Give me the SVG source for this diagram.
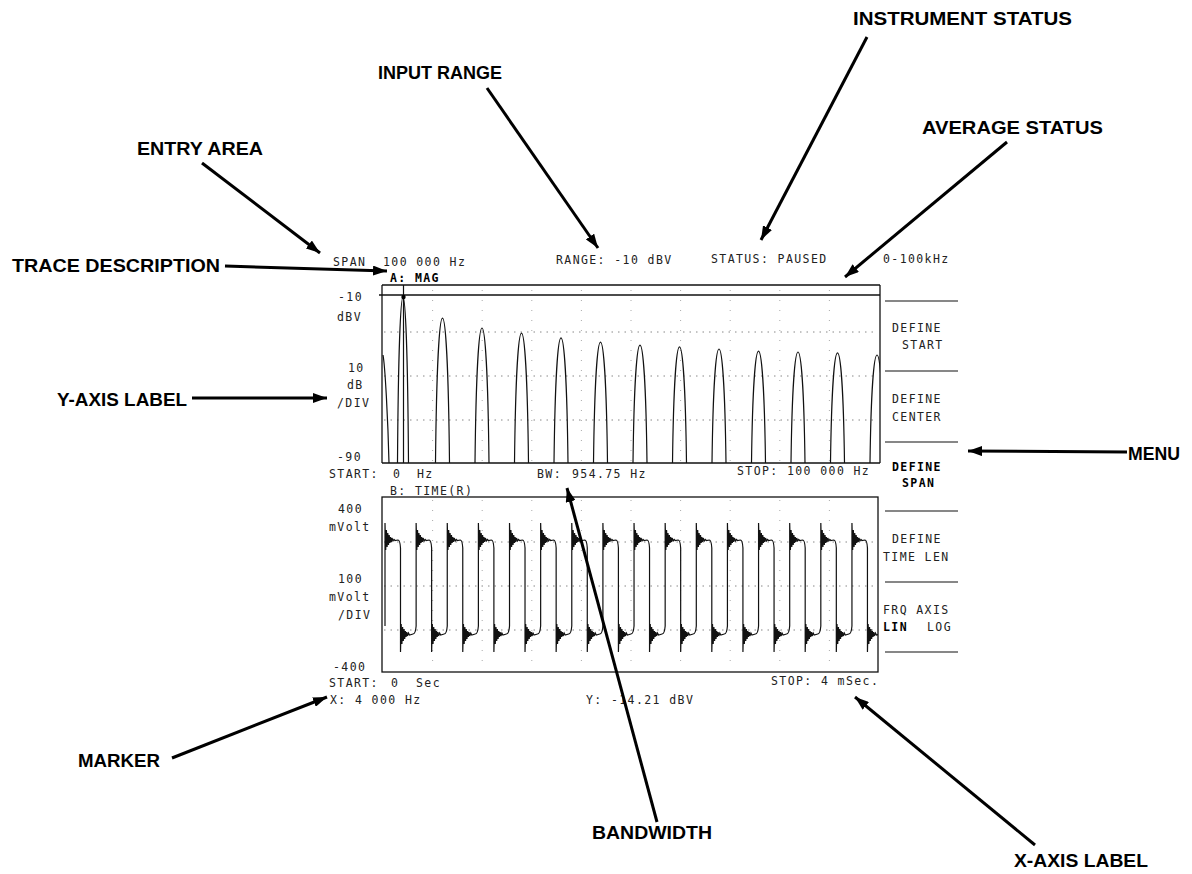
<svg xmlns="http://www.w3.org/2000/svg" xmlns:xlink="http://www.w3.org/1999/xlink" width="1192" height="874" viewBox="0 0 1192 874">
<style>
.scr{font-family:"DejaVu Sans Mono","Liberation Mono",monospace;font-size:11.5px;letter-spacing:1.4px;fill:#222}
.b{font-weight:bold;fill:#000}
.ann{font-family:"Liberation Sans","Open Sans",sans-serif;font-size:18px;font-weight:bold;fill:#000}
.frame{fill:none;stroke:#111;stroke-width:1.3}
.grid{fill:none;stroke:#888;stroke-width:1;stroke-dasharray:1.5 5}
.vgrid{fill:none;stroke:#aaa;stroke-width:1;stroke-dasharray:1 9}
.trace{fill:none;stroke:#111;stroke-width:1.2}
.menu{fill:none;stroke:#111;stroke-width:1.2}
.arrow{fill:none;stroke:#000;stroke-width:3;marker-end:url(#ah)}
</style>
<defs>
<marker id="ah" viewBox="0 0 14 10" refX="14" refY="5" markerWidth="14" markerHeight="10" markerUnits="userSpaceOnUse" orient="auto">
<path d="M0,0 L14,5 L0,10 z" fill="#000"/>
</marker>
<clipPath id="clipA"><rect x="382" y="285" width="498" height="178"/></clipPath>
<clipPath id="clipB"><rect x="382" y="497" width="496" height="175"/></clipPath>
<path id="period" d="M0,626 L0,523 L0.7,550 L1.4,530 L2.1,547 L2.8,533 L3.5,545 L4.2,535 L4.9,543 L5.6,537 L6.3,542 L7,538 L8,541 L9,539.5 L10,540.5 L13,540 Q15,540 15.5,548 L15.5,652 L16.2,624 L16.9,644 L17.6,627 L18.3,641 L19,629 L19.7,639 L20.4,631 L21.1,637 L21.8,632 L22.5,636 L23.5,633 L24.5,635 L28,634 Q30.5,634 31.13,626"/>
</defs>
<rect width="1192" height="874" fill="#fff"/>

<g id="header">
<text class="scr" x="333" y="266">SPAN</text>
<text class="scr" x="383" y="266">100 000 Hz</text>
<text class="scr" x="556" y="264">RANGE: -10 dBV</text>
<text class="scr" x="711" y="263">STATUS: PAUSED</text>
<text class="scr" x="883" y="263">0-100kHz</text>
</g>

<g id="trace-a">
<text class="scr b" x="390" y="282">A: MAG</text>
<line class="frame" x1="382" y1="285" x2="880" y2="285"/>
<line class="frame" x1="379" y1="295" x2="880" y2="295"/>
<line class="frame" x1="382" y1="285" x2="382" y2="463"/>
<line class="frame" x1="880" y1="285" x2="880" y2="463"/>
<line class="frame" x1="382" y1="463" x2="880" y2="463"/>
<path class="grid" d="M384,332 H878 M384,376 H878 M384,420 H878"/>
<path class="vgrid" d="M432.6,290 V461 M482.2,290 V461 M531.8,290 V461 M581.4,290 V461 M631,290 V461 M680.6,290 V461 M730.2,290 V461 M779.8,290 V461 M829.4,290 V461"/>
<g clip-path="url(#clipA)" class="trace">
<path d="M383,355 C385,365 388,420 389,463"/>
<path d="M397.5,463 C399,241.7 407,241.7 408.5,463"/>
<path d="M435.5,463 C437.5,269.7 447.5,269.7 449.5,463"/>
<path d="M475,463 C477,283 487,283 489,463"/>
<path d="M514.5,463 C516.5,289.7 526.5,289.7 528.5,463"/>
<path d="M554,463 C556,296.3 566,296.3 568,463"/>
<path d="M593.5,463 C595.5,301.7 605.5,301.7 607.5,463"/>
<path d="M633,463 C635,305.7 645,305.7 647,463"/>
<path d="M672.5,463 C674.5,308.3 684.5,308.3 686.5,463"/>
<path d="M712,463 C714,311 724,311 726,463"/>
<path d="M751.5,463 C753.5,313.7 763.5,313.7 765.5,463"/>
<path d="M791,463 C793,315 803,315 805,463"/>
<path d="M830.5,463 C832.5,316.3 842.5,316.3 844.5,463"/>
<path d="M870,463 C872,319 882,319 884,463"/>
<line x1="403.5" y1="285" x2="403.5" y2="463"/>
</g>
<circle cx="403.5" cy="297" r="2.2" fill="#000"/>
<text class="scr" x="338" y="301">-10</text>
<text class="scr" x="337" y="321">dBV</text>
<text class="scr" x="348" y="372">10</text>
<text class="scr" x="347" y="389">dB</text>
<text class="scr" x="337" y="407">/DIV</text>
<text class="scr" x="337" y="461">-90</text>
<text class="scr" x="329" y="478">START:</text>
<text class="scr" x="393" y="478">0</text>
<text class="scr" x="417" y="478">Hz</text>
<text class="scr" x="537" y="478">BW:</text>
<text class="scr" x="572" y="478">954.75 Hz</text>
<text class="scr" x="737" y="475">STOP: 100 000 Hz</text>
</g>

<g id="trace-b">
<text class="scr" x="390" y="495">B: TIME(R)</text>
<rect class="frame" x="382" y="497" width="496" height="175"/>
<path class="grid" d="M384,542 H876 M384,586 H876 M384,630 H876"/>
<path class="vgrid" d="M432.6,500 V670 M482.2,500 V670 M531.8,500 V670 M581.4,500 V670 M631,500 V670 M680.6,500 V670 M730.2,500 V670 M779.8,500 V670 M829.4,500 V670"/>
<g clip-path="url(#clipB)" class="trace">
<use xlink:href="#period" href="#period" x="385"/>
<use xlink:href="#period" href="#period" x="416.13"/>
<use xlink:href="#period" href="#period" x="447.26"/>
<use xlink:href="#period" href="#period" x="478.39"/>
<use xlink:href="#period" href="#period" x="509.52"/>
<use xlink:href="#period" href="#period" x="540.65"/>
<use xlink:href="#period" href="#period" x="571.78"/>
<use xlink:href="#period" href="#period" x="602.91"/>
<use xlink:href="#period" href="#period" x="634.04"/>
<use xlink:href="#period" href="#period" x="665.17"/>
<use xlink:href="#period" href="#period" x="696.3"/>
<use xlink:href="#period" href="#period" x="727.43"/>
<use xlink:href="#period" href="#period" x="758.56"/>
<use xlink:href="#period" href="#period" x="789.69"/>
<use xlink:href="#period" href="#period" x="820.82"/>
<use xlink:href="#period" href="#period" x="851.95"/>
</g>
<text class="scr" x="338" y="513">400</text>
<text class="scr" x="329" y="531">mVolt</text>
<text class="scr" x="338" y="583">100</text>
<text class="scr" x="329" y="601">mVolt</text>
<text class="scr" x="338" y="619">/DIV</text>
<text class="scr" x="333" y="671">-400</text>
<text class="scr" x="329" y="687">START:</text>
<text class="scr" x="391" y="687">0</text>
<text class="scr" x="416" y="687">Sec</text>
<text class="scr" x="771" y="685">STOP: 4 mSec.</text>
<text class="scr" x="330" y="704">X: 4 000 Hz</text>
<text class="scr" x="586" y="704">Y: -14.21 dBV</text>
</g>

<g id="menu">
<path class="menu" d="M885,301 H958 M885,371 H958 M885,442 H958 M885,511 H958 M885,582 H958 M885,652 H958"/>
<text class="scr" x="892" y="332">DEFINE</text>
<text class="scr" x="902" y="349">START</text>
<text class="scr" x="892" y="403">DEFINE</text>
<text class="scr" x="892" y="421">CENTER</text>
<text class="scr b" x="892" y="471">DEFINE</text>
<text class="scr b" x="902" y="487">SPAN</text>
<text class="scr" x="892" y="543">DEFINE</text>
<text class="scr" x="883" y="561">TIME LEN</text>
<text class="scr" x="883" y="614">FRQ AXIS</text>
<text class="scr b" x="883" y="631">LIN</text>
<text class="scr" x="927" y="631">LOG</text>
</g>

<g id="labels">
<text id="lbl-instrument" class="ann" x="853" y="25" textLength="219" lengthAdjust="spacingAndGlyphs">INSTRUMENT STATUS</text>
<text id="lbl-input" class="ann" x="378" y="79" textLength="124" lengthAdjust="spacingAndGlyphs">INPUT RANGE</text>
<text id="lbl-average" class="ann" x="922" y="134" textLength="181" lengthAdjust="spacingAndGlyphs">AVERAGE STATUS</text>
<text id="lbl-entry" class="ann" x="137" y="155" textLength="126" lengthAdjust="spacingAndGlyphs">ENTRY AREA</text>
<text id="lbl-trace" class="ann" x="12" y="272" textLength="208" lengthAdjust="spacingAndGlyphs">TRACE DESCRIPTION</text>
<text id="lbl-yaxis" class="ann" x="57" y="406" textLength="130" lengthAdjust="spacingAndGlyphs">Y-AXIS LABEL</text>
<text id="lbl-menu" class="ann" x="1128" y="460" textLength="52" lengthAdjust="spacingAndGlyphs">MENU</text>
<text id="lbl-marker" class="ann" x="78" y="767" textLength="82" lengthAdjust="spacingAndGlyphs">MARKER</text>
<text id="lbl-bandwidth" class="ann" x="592" y="839" textLength="120" lengthAdjust="spacingAndGlyphs">BANDWIDTH</text>
<text id="lbl-xaxis" class="ann" x="1014" y="867" textLength="134" lengthAdjust="spacingAndGlyphs">X-AXIS LABEL</text>
</g>

<g id="connectors">
<line class="arrow" x1="867" y1="37" x2="761" y2="240"/>
<line class="arrow" x1="487" y1="88" x2="598" y2="248"/>
<line class="arrow" x1="1007" y1="142" x2="845" y2="277"/>
<line class="arrow" x1="202" y1="163" x2="320" y2="253"/>
<line class="arrow" x1="225" y1="266" x2="387" y2="271"/>
<line class="arrow" x1="192" y1="398" x2="327" y2="398"/>
<line class="arrow" x1="1127" y1="452" x2="968" y2="451"/>
<line class="arrow" x1="172" y1="758" x2="327" y2="697"/>
<line class="arrow" x1="657" y1="822" x2="567" y2="488"/>
<line class="arrow" x1="1035" y1="845" x2="855" y2="697"/>
</g>
</svg>
